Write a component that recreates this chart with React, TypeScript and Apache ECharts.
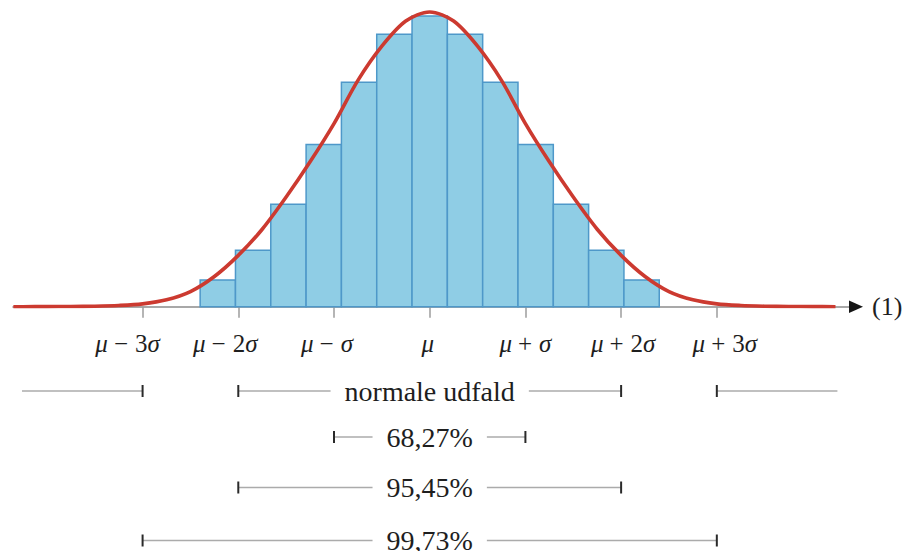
import React, { useEffect, useRef } from 'react';
import * as echarts from 'echarts';

// Histogram: outcomes of the count and their probabilities (in %)
const outcomes = [9, 10, 11, 12, 13, 14, 15, 16, 17, 18, 19, 20, 21];
const probabilities = [1.33, 2.8, 5.09, 8.06, 11.15, 13.54, 14.45, 13.54, 11.15, 8.06, 5.09, 2.8, 1.33];
const meanOutcome = 15;
// width of one outcome bin, measured in standard deviations
const binWidthSigma = 0.369;

// Bell curve, x in standard deviations from the mean, y in %
const curveX = [
  -4.35, -4.25, -4, -3.75, -3.5, -3.25, -3, -2.75, -2.5, -2.25, -2, -1.75, -1.5, -1.25, -1, -0.75, -0.5, -0.25,
  0, 0.25, 0.5, 0.75, 1, 1.25, 1.5, 1.75, 2, 2.25, 2.5, 2.75, 3, 3.25, 3.5, 3.75, 4, 4.24,
];
const curveY = [
  0.001, 0.001, 0.004, 0.01, 0.025, 0.06, 0.14, 0.34, 0.75, 1.5, 2.55, 3.85, 5.45, 7.2, 9.1, 11.25, 12.95, 14.2,
  14.65, 14.2, 12.95, 11.25, 9.1, 7.2, 5.45, 3.85, 2.55, 1.5, 0.75, 0.34, 0.14, 0.06, 0.025, 0.01, 0.004, 0.001,
];

// Axis marks at μ + kσ
const sigmaSteps = [-3, -2, -1, 0, 1, 2, 3];
const sigmaLabelParts: string[][] = [
  ['μ', '−', '3', 'σ'],
  ['μ', '−', '2', 'σ'],
  ['μ', '−', '', 'σ'],
  ['μ', '', '', ''],
  ['μ', '+', '', 'σ'],
  ['μ', '+', '2', 'σ'],
  ['μ', '+', '3', 'σ'],
];

// Intervals around the mean and the share of outcomes inside them
const intervalLabels = ['normale udfald', '68,27%', '95,45%', '99,73%'];
const intervalFrom = [-2, -1, -2, -3];
const intervalTo = [2, 1, 2, 3];
// outlying ranges shown on the first row
const outlierFrom = [-4.26, 3];
const outlierTo = [-3, 4.26];

// ---- layout ----
const AXIS_MIN = -4.354;
const AXIS_MAX = 4.402;
const ROW_Y = [391, 437, 487.5, 540.5];
const LABEL_SHIFT = [-15, -13, -7, -2, 0, 2, 8];
const SERIF = '"Liberation Serif", "DejaVu Serif", serif';
const INK = '#1e1e1e';

function buildAxisLabels() {
  const rich: Record<string, any> = {};
  const strings: string[] = [];
  sigmaLabelParts.forEach((parts, j) => {
    const tokens: { text: string; italic: boolean; op: boolean }[] = [];
    const [mu, op, coef, sig] = parts;
    tokens.push({ text: mu, italic: true, op: false });
    if (op) tokens.push({ text: op, italic: false, op: true });
    if (coef) tokens.push({ text: coef, italic: false, op: false });
    if (sig) tokens.push({ text: sig, italic: true, op: false });
    const shift = LABEL_SHIFT[j];
    let s = '';
    tokens.forEach((t, k) => {
      const name = `t${j}_${k}`;
      const pad = [0, 0, 0, 0];
      if (t.op) {
        pad[1] = 7;
        pad[3] = 6;
      }
      if (k === 0 && shift > 0) pad[3] += 2 * shift;
      if (k === tokens.length - 1 && shift < 0) pad[1] += -2 * shift;
      rich[name] = {
        fontFamily: SERIF,
        fontStyle: t.italic ? 'italic' : 'normal',
        fontSize: 25,
        lineHeight: 27,
        color: INK,
        padding: pad,
      };
      s += `{${name}|${t.text}}`;
    });
    strings.push(s);
  });
  return { rich, strings };
}

export default function App() {
  const ref = useRef<HTMLDivElement>(null);

  useEffect(() => {
    if (!ref.current) return;
    const chart = echarts.init(ref.current, undefined, { renderer: 'svg' });
    const labels = buildAxisLabels();

    const barData = outcomes.map((k, i) => [(k - meanOutcome) * binWidthSigma, probabilities[i]]);
    const curveData = curveX.map((x, i) => [x, curveY[i]]);
    const intervalData = intervalLabels.map((_, i) => [intervalFrom[i], intervalTo[i], i]);

    chart.setOption({
      animation: false,
      backgroundColor: '#ffffff',
      grid: { left: 13, right: 57, top: 4.9, bottom: 244.3 },
      xAxis: {
        type: 'value',
        min: AXIS_MIN,
        max: AXIS_MAX,
        splitLine: { show: false },
        axisLine: { show: true, onZero: false, lineStyle: { color: '#8c8c8c', width: 1.5 } },
        axisTick: {
          show: true,
          customValues: sigmaSteps,
          length: 11,
          lineStyle: { color: '#9c9c9c', width: 1.5 },
        },
        axisLabel: {
          customValues: sigmaSteps,
          margin: 23,
          formatter: (v: number) => {
            const j = sigmaSteps.indexOf(Math.round(v));
            return j >= 0 ? labels.strings[j] : '';
          },
          rich: labels.rich,
        },
        name: '(1)',
        nameLocation: 'end',
        nameGap: 21,
        nameTextStyle: { fontFamily: SERIF, fontSize: 26, color: INK, padding: [5, 0, 0, 0] },
      },
      yAxis: { type: 'value', min: 0, max: 15, show: false },
      graphic: [
        {
          type: 'polygon',
          shape: { points: [[849, 300.5], [863, 306.7], [849, 312.9]] },
          style: { fill: '#161616' },
          z: 10,
        },
      ],
      series: [
        {
          type: 'custom',
          name: 'bins',
          z: 2,
          encode: { x: 0, y: 1 },
          data: barData,
          renderItem: (_p: any, api: any) => {
            const x = api.value(0);
            const v = api.value(1);
            const a = api.coord([x - binWidthSigma / 2, v]);
            const b = api.coord([x + binWidthSigma / 2, 0]);
            return {
              type: 'rect',
              shape: { x: a[0], y: a[1], width: b[0] - a[0], height: b[1] - a[1] },
              style: { fill: '#8fcde5', stroke: '#4e98c9', lineWidth: 1.5 },
            };
          },
        },
        {
          type: 'line',
          name: 'curve',
          z: 3,
          data: curveData,
          showSymbol: false,
          smooth: 0.3,
          lineStyle: { color: '#cc3a30', width: 3.6 },
        },
        {
          type: 'custom',
          name: 'intervals',
          z: 4,
          encode: { x: [0, 1], y: 2 },
          data: intervalData,
          renderItem: (_p: any, api: any) => {
            const i = api.value(2);
            const xa = api.coord([api.value(0), 0])[0];
            const xb = api.coord([api.value(1), 0])[0];
            const y = ROW_Y[i];
            const seg = (a: number, b: number) => ({
              type: 'line',
              shape: { x1: a, y1: y, x2: b, y2: y },
              style: { stroke: '#ababab', lineWidth: 1.3 },
            });
            const tick = (x: number) => ({
              type: 'line',
              shape: { x1: x, y1: y - 6, x2: x, y2: y + 6 },
              style: { stroke: '#2a2a2a', lineWidth: 2 },
            });
            const children: any[] = [seg(xa, xb), tick(xa), tick(xb)];
            if (i === 0) {
              outlierFrom.forEach((f, k) => {
                const pa = api.coord([f, 0])[0];
                const pb = api.coord([outlierTo[k], 0])[0];
                children.push(seg(pa, pb));
                children.push(tick(k === 0 ? pb : pa));
              });
            }
            children.push({
              type: 'text',
              x: (xa + xb) / 2,
              y,
              style: {
                text: intervalLabels[i],
                fontFamily: SERIF,
                fontSize: 28,
                fill: INK,
                align: 'center',
                verticalAlign: 'middle',
                backgroundColor: '#ffffff',
                padding: [0, 14],
              },
            });
            return { type: 'group', children };
          },
        },
      ],
    });

    return () => chart.dispose();
  }, []);

  return (
    <div
      ref={ref}
      style={{ position: 'fixed', left: 0, top: 0, width: 908, height: 551, background: '#fff' }}
    />
  );
}
